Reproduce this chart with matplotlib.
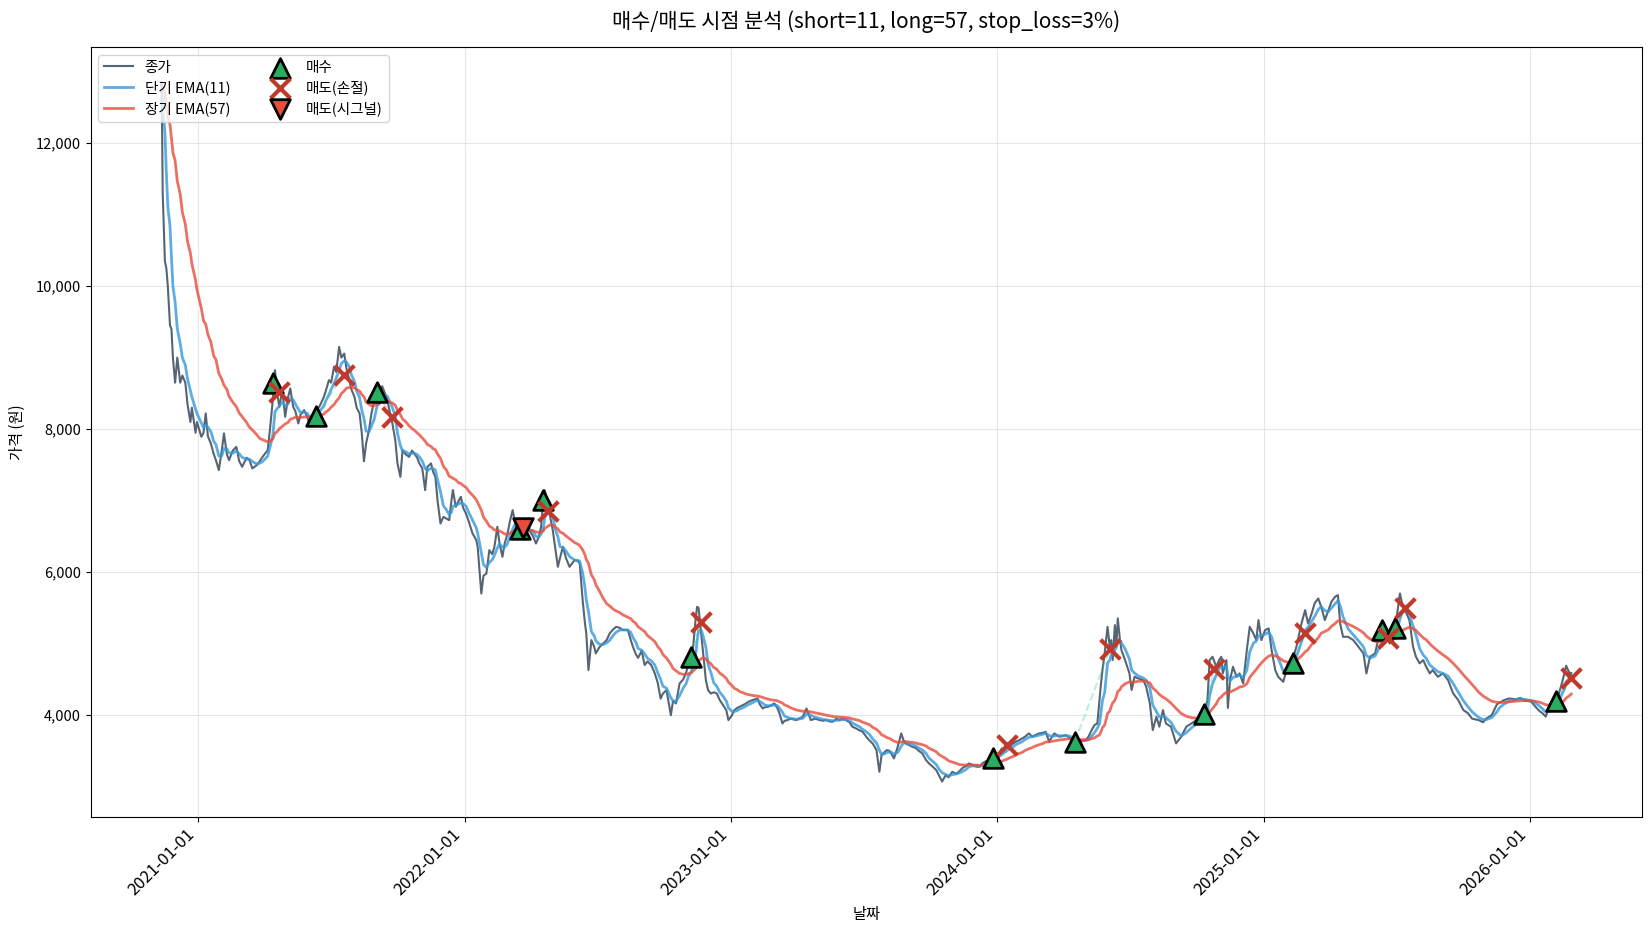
import numpy as np
import pandas as pd
import matplotlib
matplotlib.use("Agg")
from matplotlib import pyplot as plt
import matplotlib.dates as mdates
from matplotlib.ticker import StrMethodFormatter

plt.rcParams['font.family'] = ['Noto Sans CJK KR', 'DejaVu Sans']
plt.rcParams['axes.unicode_minus'] = False

SHORT, LONG, STOP = 11, 57, 3

# closing prices (date, won)
close_dates = [
    # 2020
    "2020-11-11", "2020-11-12", "2020-11-13", "2020-11-16", "2020-11-18", "2020-11-20",
    "2020-11-23", "2020-11-25", "2020-11-27", "2020-11-30", "2020-12-03", "2020-12-07",
    "2020-12-10", "2020-12-14", "2020-12-17", "2020-12-21", "2020-12-23", "2020-12-28",
    "2020-12-30",
    # 2021
    "2021-01-05", "2021-01-08", "2021-01-11", "2021-01-14", "2021-01-18", "2021-01-22",
    "2021-01-25", "2021-01-29", "2021-02-02", "2021-02-05", "2021-02-09", "2021-02-12",
    "2021-02-17", "2021-02-22", "2021-02-26", "2021-03-02", "2021-03-08", "2021-03-12",
    "2021-03-16", "2021-03-22", "2021-03-26", "2021-03-30", "2021-04-06", "2021-04-09",
    "2021-04-13", "2021-04-16", "2021-04-19", "2021-04-22", "2021-04-26", "2021-04-30",
    "2021-05-04", "2021-05-07", "2021-05-11", "2021-05-14", "2021-05-18", "2021-05-21",
    "2021-05-26", "2021-05-31", "2021-06-02", "2021-06-07", "2021-06-11", "2021-06-15",
    "2021-06-18", "2021-06-22", "2021-06-25", "2021-06-29", "2021-07-02", "2021-07-06",
    "2021-07-09", "2021-07-13", "2021-07-16", "2021-07-20", "2021-07-23", "2021-07-27",
    "2021-07-30", "2021-08-03", "2021-08-06", "2021-08-10", "2021-08-13", "2021-08-16",
    "2021-08-19", "2021-08-23", "2021-08-26", "2021-08-30", "2021-09-03", "2021-09-07",
    "2021-09-10", "2021-09-14", "2021-09-17", "2021-09-24", "2021-09-28", "2021-10-01",
    "2021-10-05", "2021-10-08", "2021-10-12", "2021-10-17", "2021-10-21", "2021-10-24",
    "2021-10-28", "2021-10-31", "2021-11-04", "2021-11-08", "2021-11-11", "2021-11-16",
    "2021-11-19", "2021-11-22", "2021-11-25", "2021-11-29", "2021-12-03", "2021-12-07",
    "2021-12-11", "2021-12-14", "2021-12-16", "2021-12-20", "2021-12-24", "2021-12-27",
    "2021-12-30",
    # 2022
    "2022-01-03", "2022-01-07", "2022-01-12", "2022-01-17", "2022-01-19", "2022-01-24",
    "2022-01-27", "2022-01-31", "2022-02-04", "2022-02-08", "2022-02-11", "2022-02-15",
    "2022-02-18", "2022-02-22", "2022-02-25", "2022-03-01", "2022-03-04", "2022-03-08",
    "2022-03-11", "2022-03-15", "2022-03-18", "2022-03-22", "2022-03-25", "2022-03-31",
    "2022-04-05", "2022-04-09", "2022-04-13", "2022-04-16", "2022-04-19", "2022-04-21",
    "2022-04-25", "2022-04-28", "2022-05-02", "2022-05-06", "2022-05-09", "2022-05-12",
    "2022-05-16", "2022-05-20", "2022-05-25", "2022-06-01", "2022-06-06", "2022-06-08",
    "2022-06-12", "2022-06-15", "2022-06-17", "2022-06-20", "2022-06-24", "2022-06-28",
    "2022-06-30", "2022-07-05", "2022-07-10", "2022-07-15", "2022-07-19", "2022-07-24",
    "2022-07-28", "2022-08-02", "2022-08-06", "2022-08-13", "2022-08-17", "2022-08-20",
    "2022-08-24", "2022-08-27", "2022-09-01", "2022-09-05", "2022-09-09", "2022-09-14",
    "2022-09-19", "2022-09-23", "2022-09-27", "2022-09-30", "2022-10-05", "2022-10-11",
    "2022-10-14", "2022-10-18", "2022-10-23", "2022-10-28", "2022-11-01", "2022-11-04",
    "2022-11-08", "2022-11-11", "2022-11-14", "2022-11-16", "2022-11-18", "2022-11-22",
    "2022-11-24", "2022-11-28", "2022-12-01", "2022-12-05", "2022-12-09", "2022-12-13",
    "2022-12-17", "2022-12-21", "2022-12-26", "2022-12-29",
    # 2023
    "2023-01-03", "2023-01-06", "2023-01-10", "2023-01-13", "2023-01-18", "2023-01-22",
    "2023-01-26", "2023-01-31", "2023-02-03", "2023-02-07", "2023-02-10", "2023-02-14",
    "2023-02-17", "2023-02-21", "2023-02-24", "2023-03-02", "2023-03-06", "2023-03-09",
    "2023-03-13", "2023-03-16", "2023-03-20", "2023-03-24", "2023-04-01", "2023-04-05",
    "2023-04-10", "2023-04-15", "2023-04-21", "2023-04-27", "2023-05-03", "2023-05-08",
    "2023-05-12", "2023-05-17", "2023-05-21", "2023-05-26", "2023-05-30", "2023-06-03",
    "2023-06-08", "2023-06-13", "2023-06-17", "2023-06-22", "2023-06-26", "2023-07-01",
    "2023-07-06", "2023-07-10", "2023-07-15", "2023-07-20", "2023-07-24", "2023-07-27",
    "2023-07-31", "2023-08-03", "2023-08-07", "2023-08-10", "2023-08-13", "2023-08-18",
    "2023-08-23", "2023-08-26", "2023-08-29", "2023-09-03", "2023-09-07", "2023-09-12",
    "2023-09-16", "2023-09-21", "2023-09-26", "2023-09-30", "2023-10-05", "2023-10-10",
    "2023-10-14", "2023-10-18", "2023-10-23", "2023-10-27", "2023-11-01", "2023-11-06",
    "2023-11-10", "2023-11-15", "2023-11-20", "2023-11-24", "2023-11-29", "2023-12-04",
    "2023-12-08", "2023-12-13", "2023-12-18", "2023-12-22", "2023-12-27",
    # 2024
    "2024-01-02", "2024-01-05", "2024-01-08", "2024-01-11", "2024-01-15", "2024-01-18",
    "2024-01-23", "2024-01-27", "2024-02-01", "2024-02-05", "2024-02-09", "2024-02-14",
    "2024-02-19", "2024-02-23", "2024-02-28", "2024-03-04", "2024-03-08", "2024-03-13",
    "2024-03-17", "2024-03-20", "2024-03-27", "2024-04-01", "2024-04-05", "2024-04-10",
    "2024-04-14", "2024-04-17", "2024-04-23", "2024-04-28", "2024-05-02", "2024-05-06",
    "2024-05-09", "2024-05-14", "2024-05-18", "2024-05-21", "2024-05-23", "2024-05-25",
    "2024-05-28", "2024-05-30", "2024-06-01", "2024-06-04", "2024-06-06", "2024-06-08",
    "2024-06-11", "2024-06-13", "2024-06-15", "2024-06-18", "2024-06-20", "2024-06-25",
    "2024-07-01", "2024-07-04", "2024-07-08", "2024-07-13", "2024-07-20", "2024-07-24",
    "2024-07-29", "2024-08-02", "2024-08-07", "2024-08-11", "2024-08-16", "2024-08-20",
    "2024-08-27", "2024-09-03", "2024-09-10", "2024-09-17", "2024-09-24", "2024-10-01",
    "2024-10-07", "2024-10-11", "2024-10-16", "2024-10-19", "2024-10-23", "2024-10-28",
    "2024-11-01", "2024-11-04", "2024-11-06", "2024-11-11", "2024-11-13", "2024-11-16",
    "2024-11-20", "2024-11-25", "2024-11-29", "2024-12-04", "2024-12-09", "2024-12-13",
    "2024-12-18", "2024-12-22", "2024-12-25", "2024-12-29",
    # 2025
    "2025-01-03", "2025-01-08", "2025-01-12", "2025-01-17", "2025-01-21", "2025-01-28",
    "2025-02-04", "2025-02-11", "2025-02-15", "2025-02-22", "2025-02-27", "2025-03-03",
    "2025-03-08", "2025-03-12", "2025-03-17", "2025-03-21", "2025-03-26", "2025-03-31",
    "2025-04-04", "2025-04-09", "2025-04-13", "2025-04-16", "2025-04-20", "2025-04-27",
    "2025-05-04", "2025-05-11", "2025-05-18", "2025-05-22", "2025-05-27", "2025-06-03",
    "2025-06-07", "2025-06-12", "2025-06-19", "2025-06-23", "2025-06-28", "2025-07-02",
    "2025-07-07", "2025-07-11", "2025-07-16", "2025-07-20", "2025-07-25", "2025-07-29",
    "2025-08-03", "2025-08-08", "2025-08-12", "2025-08-17", "2025-08-21", "2025-08-28",
    "2025-09-04", "2025-09-11", "2025-09-18", "2025-09-25", "2025-10-02", "2025-10-08",
    "2025-10-14", "2025-10-23", "2025-10-29", "2025-11-03", "2025-11-10", "2025-11-17",
    "2025-11-21", "2025-11-27", "2025-12-04", "2025-12-13", "2025-12-19", "2025-12-26",
    # 2026
    "2026-01-03", "2026-01-09", "2026-01-14", "2026-01-18", "2026-01-23", "2026-01-28",
    "2026-02-02", "2026-02-06", "2026-02-10", "2026-02-14", "2026-02-18", "2026-02-20",
    "2026-02-24", "2026-02-26", "2026-02-27",
]

close_values = [
    # 2020
    12850, 12350, 11300, 10350, 10250, 10000, 9450, 9400, 9000, 8650, 9000, 8650,
    8750, 8650, 8350, 8100, 8300, 7950, 8100,
    # 2021
    7893, 7950, 8220, 7900, 7800, 7650, 7566, 7426, 7700, 7940, 7650, 7566,
    7700, 7752, 7550, 7473, 7600, 7566, 7450, 7496, 7550, 7612, 7706, 7986,
    8405, 8825, 8500, 8312, 8545, 8172, 8450, 8569, 8312, 8250, 8080, 8200,
    8266, 8150, 8080, 8150, 8266, 8300, 8359, 8450, 8545, 8685, 8650, 8872,
    8800, 9150, 9000, 9057, 8850, 8685, 8550, 8452, 8300, 8220, 7950, 7550,
    7800, 7986, 8200, 8405, 8545, 8498, 8600, 8498, 8405, 8080, 7846, 7520,
    7333, 7706, 7650, 7612, 7700, 7659, 7600, 7520, 7450, 7147, 7473, 7520,
    7400, 7333, 7000, 6680, 6773, 6750, 6727, 7000, 7147, 6913, 7000, 7053,
    6900,
    # 2022
    6820, 6700, 6540, 6450, 6354, 5701, 5950, 5980, 6308, 6250, 6354, 6634,
    6400, 6214, 6400, 6540, 6700, 6867, 6700, 6540, 6600, 6611, 6600, 6587,
    6500, 6400, 6500, 6634, 7000, 7147, 6960, 6800, 6587, 6300, 6074, 6200,
    6354, 6200, 6074, 6168, 6150, 6120, 5608, 5300, 5142, 4629, 5049, 4950,
    4863, 4950, 5001, 5050, 5142, 5200, 5235, 5220, 5189, 5189, 5050, 4955,
    4850, 4800, 4900, 4700, 4750, 4700, 4583, 4450, 4230, 4300, 4350, 4000,
    4200, 4163, 4443, 4500, 4600, 4700, 4769, 5000, 5350, 5515, 5500, 5100,
    4909, 4490, 4350, 4300, 4320, 4303, 4210, 4150, 4070, 3930,
    # 2023
    4000, 4070, 4100, 4116, 4140, 4163, 4190, 4210, 4220, 4233, 4150, 4093,
    4110, 4116, 4130, 4163, 4100, 4023, 3883, 3920, 3930, 3950, 3930, 3953,
    3977, 4093, 3930, 3950, 3930, 3920, 3930, 3910, 3907, 3950, 3930, 3953,
    3930, 3900, 3837, 3814, 3790, 3767, 3697, 3650, 3600, 3510, 3207, 3441,
    3480, 3510, 3500, 3450, 3394, 3550, 3744, 3650, 3604, 3580, 3557, 3540,
    3500, 3464, 3371, 3324, 3280, 3231, 3150, 3070, 3161, 3130, 3207, 3180,
    3207, 3260, 3290, 3324, 3300, 3280, 3277, 3330, 3360, 3350, 3400,
    # 2024
    3450, 3480, 3534, 3500, 3580, 3557, 3600, 3627, 3650, 3674, 3700, 3744,
    3697, 3720, 3744, 3750, 3767, 3627, 3700, 3744, 3697, 3710, 3720, 3680,
    3650, 3627, 3627, 3640, 3650, 3700, 3767, 3860, 3883, 4210, 4443, 4629,
    4863, 5049, 5235, 4955, 5049, 4769, 5259, 4955, 5352, 5049, 4909, 4769,
    4583, 4350, 4536, 4513, 4490, 4396, 4163, 3790, 3977, 3837, 4070, 3883,
    3837, 3604, 3697, 3837, 3883, 3930, 3977, 4014, 4210, 4769, 4816, 4676,
    4769, 4816, 4583, 4769, 4100, 4490, 4676, 4536, 4583, 4443, 4909, 5235,
    5142, 5049, 5329, 5049,
    # 2025
    5189, 5212, 4909, 4629, 4536, 4466, 4723, 4816, 4955, 5282, 5468, 5282,
    5422, 5562, 5632, 5515, 5329, 5468, 5585, 5655, 5678, 5282, 5095, 5095,
    5049, 4955, 4863, 4583, 4816, 4863, 5049, 5189, 5095, 5001, 5189, 5329,
    5702, 5515, 5422, 5329, 4955, 4816, 4723, 4769, 4676, 4583, 4629, 4536,
    4583, 4490, 4303, 4210, 4070, 4030, 3950, 3930, 3900, 3956, 4000, 4150,
    4176, 4210, 4233, 4220, 4240, 4200,
    # 2026
    4190, 4116, 4060, 4030, 3980, 4118, 4150, 4192, 4300, 4440, 4600, 4690,
    4600, 4515, 4590,
]

# trades: entry and exit
buy_dates = ["2021-04-13", "2021-06-11", "2021-09-03", "2022-03-18", "2022-04-19",
             "2022-11-07", "2023-12-27", "2024-04-17", "2024-10-11", "2025-02-11",
             "2025-06-13", "2025-06-30", "2026-02-06"]
buy_prices = [8640, 8182, 8522, 6600, 7007, 4807, 3399, 3627, 4014, 4731, 5189, 5224, 4192]
sell_dates = ["2021-04-21", "2021-07-19", "2021-09-23", "2022-03-22", "2022-04-26",
              "2022-11-21", "2024-01-15", "2024-06-04", "2024-10-25", "2025-02-27",
              "2025-06-20", "2025-07-14", "2026-02-26"]
sell_prices = [8522, 8755, 8172, 6611, 6857, 5301, 3580, 4919, 4639, 5151, 5072, 5492, 4515]
sell_kinds = ["stop", "stop", "stop", "signal", "stop", "stop", "stop", "stop",
              "stop", "stop", "stop", "stop", "stop"]


def ema(dates, values, span):
    # exponential average stepped over the trading days between read-off points;
    # inside a gap the price is taken half way between its two ends
    alpha = 2.0 / (span + 1)
    k = 1 - alpha
    d = np.array(dates, dtype='datetime64[D]')
    gaps = np.busday_count(d[:-1], d[1:])
    out = np.empty(len(values))
    out[0] = values[0]
    for i in range(1, len(values)):
        n = max(int(gaps[i - 1]), 1)
        cur, prev = values[i], values[i - 1]
        mid = 0.5 * (cur + prev)
        e = mid + (out[i - 1] - mid) * k ** (n - 1)
        out[i] = cur + (e - cur) * k
    return out


df = pd.DataFrame({'date': pd.to_datetime(close_dates), 'close': close_values})
df['ema_s'] = ema(close_dates, close_values, SHORT)
df['ema_l'] = ema(close_dates, close_values, LONG)

trades = pd.DataFrame({'buy_date': pd.to_datetime(buy_dates), 'buy': buy_prices,
                       'sell_date': pd.to_datetime(sell_dates), 'sell': sell_prices,
                       'kind': sell_kinds})

fig = plt.figure(figsize=(16.5, 9.3), dpi=100)
ax = fig.add_subplot(111)
fig.subplots_adjust(left=0.055, right=0.995, bottom=0.122, top=0.949)

ax.plot(df['date'], df['close'], color='#2c3e50', lw=1.5, alpha=0.8, label='종가')
ax.plot(df['date'], df['ema_s'], color='#3498db', lw=2, alpha=0.8, label=f'단기 EMA({SHORT})')
ax.plot(df['date'], df['ema_l'], color='#e74c3c', lw=2, alpha=0.8, label=f'장기 EMA({LONG})')

for _, t in trades.iterrows():
    c = '#2ecc71' if t['sell'] > t['buy'] else '#e74c3c'
    ax.plot([t['buy_date'], t['sell_date']], [t['buy'], t['sell']],
            ls='--', color=c, alpha=0.3, lw=1.5)

ax.scatter(trades['buy_date'], trades['buy'], marker='^', s=200, color='#27ae60',
           edgecolors='black', linewidths=2, zorder=5, label='매수')
stops = trades[trades['kind'] == 'stop']
sigs = trades[trades['kind'] == 'signal']
ax.scatter(stops['sell_date'], stops['sell'], marker='x', s=200, color='#c0392b',
           linewidths=3, zorder=6, label='매도(손절)')
ax.scatter(sigs['sell_date'], sigs['sell'], marker='v', s=200, color='#e74c3c',
           edgecolors='black', linewidths=2, zorder=6, label='매도(시그널)')

ax.set_title(f'매수/매도 시점 분석 (short={SHORT}, long={LONG}, stop_loss={STOP}%)',
             fontsize=15, pad=14)
ax.set_xlabel('날짜', fontsize=11, labelpad=5)
ax.set_ylabel('가격 (원)', fontsize=11, labelpad=7)
ax.xaxis.set_major_locator(mdates.YearLocator())
ax.xaxis.set_major_formatter(mdates.DateFormatter('%Y-%m-%d'))
ax.yaxis.set_major_formatter(StrMethodFormatter('{x:,.0f}'))
ax.tick_params(axis='x', labelsize=12)
ax.tick_params(axis='y', labelsize=10.5)
plt.setp(ax.get_xticklabels(), rotation=45, ha='right')
ax.grid(True, alpha=0.3)
ax.legend(loc='upper left', ncol=2, fontsize=10.5, columnspacing=2.4, labelspacing=0.4)

plt.savefig('out.png', dpi=100)
